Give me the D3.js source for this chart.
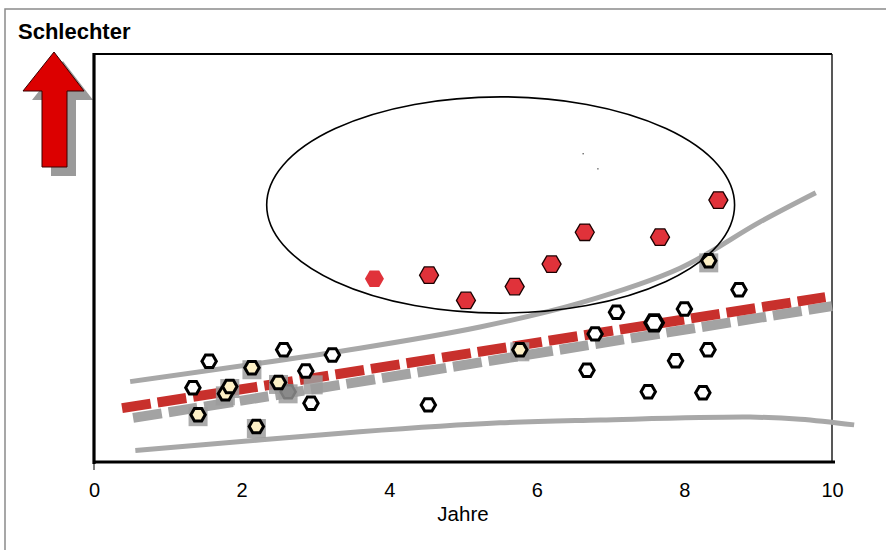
<!DOCTYPE html>
<html><head><meta charset="utf-8">
<script src="https://cdn.jsdelivr.net/npm/d3@7"></script>
<style>body{margin:0;background:#fff}svg{display:block}text{font-family:"Liberation Sans",Arial,sans-serif}</style>
</head><body>
<svg id="c" width="886" height="550"></svg>
<script>
// ---- data (x in Jahre, y in arbitrary "schlechter" units 0..10) ----
const xTicks = [0, 2, 4, 6, 8, 10];
const xTickLabels = ["0", "2", "4", "6", "8", "10"];
const redX = [3.80, 4.54, 5.04, 5.70, 6.20, 6.65, 7.67, 8.46];
const redY = [4.49, 4.58, 3.96, 4.30, 4.85, 5.63, 5.51, 6.42];
const redOutlined = [false, true, true, true, true, true, true, true];
const openX = [1.56, 1.34, 2.57, 2.87, 2.94, 3.23, 4.53, 6.68, 6.79, 7.08, 7.51, 7.59, 7.88, 8.00, 8.32, 8.25, 8.74];
const openY = [2.47, 1.82, 2.75, 2.23, 1.44, 2.62, 1.40, 2.25, 3.14, 3.67, 1.72, 3.41, 2.48, 3.75, 2.75, 1.70, 4.22];
const openLarge = [0,0,0,0,0,0,0,0,0,0,0,1,0,0,0,0,0];
const creamX = [1.41, 1.78, 1.84, 2.14, 2.20, 2.50, 5.77, 8.33];
const creamY = [1.16, 1.67, 1.85, 2.31, 0.87, 1.95, 2.75, 4.93];
const grayHexX = [2.63];
const grayHexY = [1.72];
const graySqX = [2.97];
const graySqY = [1.94];
const redTrendX = [0.38, 9.91];
const redTrendY = [1.32, 4.04];
const grayTrendX = [0.53, 10.0];
const grayTrendY = [1.08, 3.82];
const upperX = [0.49, 3.60, 5.23, 6.59, 7.94, 9.02, 9.78];
const upperY = [1.97, 2.79, 3.31, 3.90, 4.75, 5.88, 6.60];
const lowerX = [0.56, 3.60, 5.50, 6.86, 8.89, 9.57, 10.30];
const lowerY = [0.28, 0.74, 0.96, 1.03, 1.10, 1.05, 0.91];
const ellipseC = [5.51, 6.30];
const ellipseR = [3.17, 2.65];
const dotsX = [6.62, 6.82];
const dotsY = [7.57, 7.20];

const svg = d3.select("#c");
const x = d3.scaleLinear().domain([0, 10]).range([94, 832]);
const y = d3.scaleLinear().domain([0, 10]).range([462, 54]);

// outer frame
svg.append("rect").attr("x", 5).attr("y", 9).attr("width", 900).attr("height", 600)
  .attr("fill", "none").attr("stroke", "#8a8a8a").attr("stroke-width", 1.5);

// title
svg.append("text").attr("x", 18).attr("y", 39).attr("font-size", 22).attr("font-weight", "bold")
  .text("Schlechter");

// arrow (decoration) with shadow
const arrowPts = [[54,52],[84,91],[67,91],[67,167],[42,167],[42,91],[23,91]];
svg.append("polygon").attr("points", arrowPts.map(p => [p[0]+9, p[1]+9].join(",")).join(" "))
  .attr("fill", "#9a9a9a");
svg.append("polygon").attr("points", arrowPts.map(p => p.join(",")).join(" "))
  .attr("fill", "#dc0000").attr("stroke", "#3a0000").attr("stroke-width", 1);

// plot box
const g = svg.append("g");
g.append("line").attr("x1", x(0)).attr("x2", x(10)).attr("y1", y(10)).attr("y2", y(10))
  .attr("stroke", "#000").attr("stroke-width", 2.2);
g.append("line").attr("x1", x(10)).attr("x2", x(10)).attr("y1", y(10)).attr("y2", y(0))
  .attr("stroke", "#111").attr("stroke-width", 1.4);

// curves
const line = d3.line().x(d => x(d[0])).y(d => y(d[1])).curve(d3.curveCatmullRom.alpha(0.5));
g.append("path").attr("d", line(lowerX.map((v, i) => [v, lowerY[i]])))
  .attr("fill", "none").attr("stroke", "#a8a8a8").attr("stroke-width", 5);
g.append("path").attr("d", line(upperX.map((v, i) => [v, upperY[i]])))
  .attr("fill", "none").attr("stroke", "#a8a8a8").attr("stroke-width", 5);
g.append("path").attr("d", line(grayTrendX.map((v, i) => [v, grayTrendY[i]])))
  .attr("fill", "none").attr("stroke", "#a3a3a3").attr("stroke-width", 10)
  .attr("stroke-dasharray", "29,7").attr("stroke-dashoffset", 0);
g.append("path").attr("d", line(redTrendX.map((v, i) => [v, redTrendY[i]])))
  .attr("fill", "none").attr("stroke", "#c8302c").attr("stroke-width", 10)
  .attr("stroke-dasharray", "29,7").attr("stroke-dashoffset", 0);

// axes
const ax = d3.axisBottom(x).tickValues(xTicks).tickFormat((d, i) => xTickLabels[i])
  .tickSize(0).tickPadding(21);
const axG = g.append("g").attr("transform", `translate(0,${y(0)})`).call(ax);
axG.select(".domain").remove();
axG.selectAll("text").attr("font-size", 20).attr("fill", "#000")
  .attr("font-family", '"Liberation Sans",Arial,sans-serif');
g.append("line").attr("x1", x(0)).attr("x2", x(0)).attr("y1", y(0)).attr("y2", y(0) + 8)
  .attr("stroke", "#000").attr("stroke-width", 1);
g.append("line").attr("x1", x(0) - 1).attr("x2", x(10) + 3).attr("y1", y(0)).attr("y2", y(0))
  .attr("stroke", "#000").attr("stroke-width", 3.2);
g.append("line").attr("x1", x(0)).attr("x2", x(0)).attr("y1", y(10) - 1).attr("y2", y(0) + 2)
  .attr("stroke", "#000").attr("stroke-width", 3.2);
svg.append("text").attr("x", (x(0) + x(10)) / 2).attr("y", 521).attr("text-anchor", "middle")
  .attr("font-size", 20.5).text("Jahre");

// hexagon helper (flat top, points left/right)
const hex = r => {
  const pts = d3.range(6).map(k => [r * Math.cos(k * Math.PI / 3), r * Math.sin(k * Math.PI / 3)]);
  return "M" + pts.map(p => p.join(",")).join("L") + "Z";
};

// gray squares (behind cream + gray markers)
const sqData = creamX.map((v, i) => [v, creamY[i]]).concat(grayHexX.map((v, i) => [v, grayHexY[i]]))
  .concat(graySqX.map((v, i) => [v, graySqY[i]]));
g.selectAll(".sq").data(sqData).join("rect").attr("class", "sq")
  .attr("x", d => x(d[0]) - 9.5).attr("y", d => y(d[1]) - 7.5).attr("width", 19).attr("height", 19)
  .attr("fill", "#9c9c9c").attr("opacity", 0.85);

g.selectAll(".gh").data(grayHexX.map((v, i) => [v, grayHexY[i]])).join("path").attr("class", "gh")
  .attr("transform", d => `translate(${x(d[0])},${y(d[1])})`).attr("d", hex(7.5))
  .attr("fill", "#8a8a8a").attr("stroke", "#7a7a7a").attr("stroke-width", 2.5);

// open hexagons
g.selectAll(".oh").data(openX.map((v, i) => [v, openY[i], openLarge[i]])).join("path").attr("class", "oh")
  .attr("transform", d => `translate(${x(d[0])},${y(d[1])})`).attr("d", d => hex(d[2] ? 9 : 7.2))
  .attr("fill", "#fff").attr("stroke", "#000").attr("stroke-width", d => d[2] ? 3.6 : 3);

// cream hexagons
g.selectAll(".ch").data(creamX.map((v, i) => [v, creamY[i]])).join("path").attr("class", "ch")
  .attr("transform", d => `translate(${x(d[0])},${y(d[1])})`).attr("d", hex(7.2))
  .attr("fill", "#fdf0c6").attr("stroke", "#000").attr("stroke-width", 3);

// red hexagons
g.selectAll(".rh").data(redX.map((v, i) => [v, redY[i], redOutlined[i]])).join("path").attr("class", "rh")
  .attr("transform", d => `translate(${x(d[0])},${y(d[1])})`).attr("d", hex(9.5))
  .attr("fill", "#e0323a").attr("stroke", d => d[2] ? "#1a0000" : "none").attr("stroke-width", 1.3);

// ellipse
g.append("ellipse").attr("cx", x(ellipseC[0])).attr("cy", y(ellipseC[1]))
  .attr("rx", x(ellipseR[0]) - x(0)).attr("ry", y(0) - y(ellipseR[1]))
  .attr("fill", "none").attr("stroke", "#000").attr("stroke-width", 1.6);

// stray specks
g.selectAll(".dot").data(dotsX.map((v, i) => [v, dotsY[i]])).join("rect").attr("class", "dot")
  .attr("x", d => x(d[0])).attr("y", d => y(d[1])).attr("width", 1.2).attr("height", 1.2).attr("fill", "#333");
</script>
</body></html>
